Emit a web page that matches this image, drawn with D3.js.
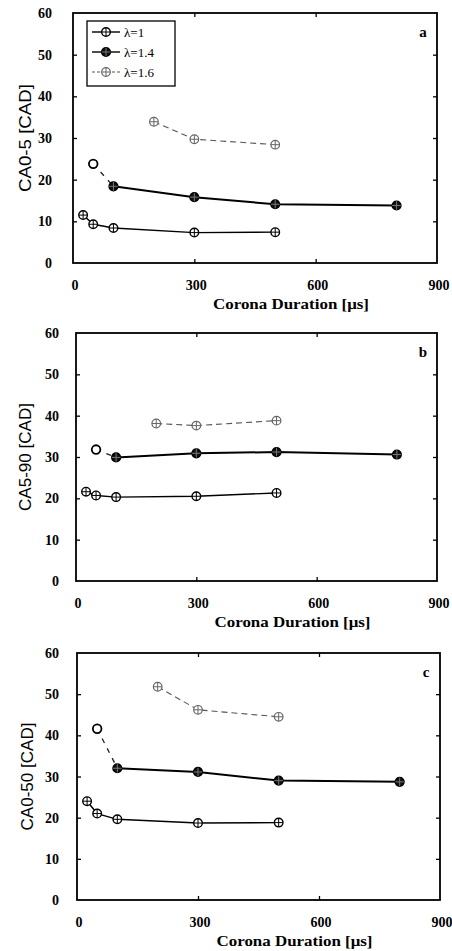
<!DOCTYPE html>
<html>
<head>
<meta charset="utf-8">
<script src="https://cdn.jsdelivr.net/npm/d3@7"></script>
<style>
  html, body { margin: 0; padding: 0; background: #fff; }
  svg { display: block; }
</style>
</head>
<body>
<svg id="chart" width="452" height="951"></svg>
<script>
// ---- data ----
const durationsL1 = [25, 50, 100, 300, 500];
const durationsL14 = [50, 100, 300, 500, 800];
const durationsL16 = [200, 300, 500];
const seriesNames = ["λ=1", "λ=1.4", "λ=1.6"];

const panelAL1 = [11.5, 9.3, 8.4, 7.3, 7.4];
const panelAL14 = [23.8, 18.4, 15.8, 14.1, 13.8];
const panelAL16 = [33.9, 29.7, 28.4];

const panelBL1 = [21.6, 20.7, 20.3, 20.5, 21.3];
const panelBL14 = [31.8, 29.9, 30.9, 31.2, 30.6];
const panelBL16 = [38.1, 37.6, 38.8];

const panelCL1 = [24.0, 21.0, 19.6, 18.7, 18.8];
const panelCL14 = [41.6, 32.0, 31.1, 29.0, 28.7];
const panelCL16 = [51.8, 46.2, 44.5];

const xTicks = [0, 300, 600, 900];
const yTicks = [0, 10, 20, 30, 40, 50, 60];
const panelLetters = ["a", "b", "c"];
const yTitles = ["CA0-5 [CAD]", "CA5-90 [CAD]", "CA0-50 [CAD]"];
const xTitle = "Corona Duration [μs]";

// ---- layout ----
const svg = d3.select("#chart");
const frames = [
  {l: 73, r: 437, t: 13, b: 263, tickEnd: 52, yTitleX: 25, legend: true},
  {l: 76, r: 437, t: 333, b: 581, tickEnd: 59, yTitleX: 25, legend: false},
  {l: 77, r: 440, t: 653, b: 900, tickEnd: 59, yTitleX: 27, legend: false}
];
const panelsData = [
  [panelAL1, panelAL14, panelAL16],
  [panelBL1, panelBL14, panelBL16],
  [panelCL1, panelCL14, panelCL16]
];
const xsets = [durationsL1, durationsL14, durationsL16];

const serif = "'Liberation Serif', 'DejaVu Serif', serif";
const sans = "'Liberation Sans', Arial, sans-serif";

function marker(g, cx, cy, kind) {
  const r = 4.3;
  let fill = "#fff", stroke = "#000", sw = 1.4, cross = "#000";
  if (kind === 1) { fill = "#111"; cross = "#777"; sw = 1.6; }
  if (kind === 2) { stroke = "#666"; cross = "#666"; sw = 1.2; }
  if (kind === 3) { sw = 1.8; cross = null; }
  g.append("circle").attr("cx", cx).attr("cy", cy).attr("r", r)
    .attr("fill", fill).attr("stroke", stroke).attr("stroke-width", sw);
  if (cross) {
    g.append("path")
      .attr("d", `M${cx - r},${cy}H${cx + r}M${cx},${cy - r}V${cy + r}`)
      .attr("stroke", cross).attr("stroke-width", 1);
  }
}

const lineStyles = [
  {stroke: "#000", width: 1.4, dash: null},
  {stroke: "#000", width: 2.0, dash: null},
  {stroke: "#555", width: 1.1, dash: "6,4"}
];

frames.forEach((f, pi) => {
  const x = d3.scaleLinear().domain([0, 900]).range([f.l, f.r]);
  const y = d3.scaleLinear().domain([0, 60]).range([f.b, f.t]);
  const g = svg.append("g");

  // inward ticks via axes
  const ax = [
    {axis: d3.axisBottom(x).tickValues(xTicks.slice(1, -1)).tickSize(-4).tickFormat(""), tr: `translate(0,${f.b})`},
    {axis: d3.axisTop(x).tickValues(xTicks.slice(1, -1)).tickSize(-4).tickFormat(""), tr: `translate(0,${f.t})`},
    {axis: d3.axisLeft(y).tickValues(yTicks.slice(1, -1)).tickSize(-4).tickFormat(""), tr: `translate(${f.l},0)`},
    {axis: d3.axisRight(y).tickValues(yTicks.slice(1, -1)).tickSize(-4).tickFormat(""), tr: `translate(${f.r},0)`}
  ];
  ax.forEach(a => {
    const ag = g.append("g").attr("transform", a.tr).call(a.axis);
    ag.select(".domain").remove();
    ag.selectAll("line").attr("stroke", "#000").attr("stroke-width", 1.3);
  });

  // frame
  g.append("rect").attr("x", f.l).attr("y", f.t)
    .attr("width", f.r - f.l).attr("height", f.b - f.t)
    .attr("fill", "none").attr("stroke", "#000").attr("stroke-width", 1.8);

  // tick labels
  g.selectAll(".xl").data(xTicks).enter().append("text")
    .attr("x", d => x(d) + 2).attr("y", f.b + 27)
    .attr("text-anchor", "middle")
    .attr("font-family", serif).attr("font-size", 14).attr("font-weight", "bold")
    .text(d => d);
  g.selectAll(".yl").data(yTicks).enter().append("text")
    .attr("x", f.tickEnd).attr("y", d => y(d) + 5)
    .attr("text-anchor", "end")
    .attr("font-family", serif).attr("font-size", 14).attr("font-weight", "bold")
    .text(d => d);

  // axis titles
  g.append("text")
    .attr("x", (f.l + f.r) / 2 + 36).attr("y", f.b + 46)
    .attr("text-anchor", "middle")
    .attr("font-family", serif).attr("font-size", 15).attr("font-weight", "bold")
    .attr("textLength", 156).attr("lengthAdjust", "spacingAndGlyphs")
    .text(xTitle);
  const yc = y(30) + 0;
  g.append("text")
    .attr("transform", `translate(${f.yTitleX + 6},${yc}) rotate(-90)`)
    .attr("text-anchor", "middle")
    .attr("font-family", sans).attr("font-size", 16)
    .attr("textLength", 108).attr("lengthAdjust", "spacingAndGlyphs")
    .text(yTitles[pi]);

  // panel letter
  g.append("text")
    .attr("x", f.r - 14).attr("y", f.t + 24)
    .attr("text-anchor", "middle")
    .attr("font-family", serif).attr("font-size", 15).attr("font-weight", "bold")
    .text(panelLetters[pi]);

  // series
  const data = panelsData[pi];
  const line = d3.line().x(d => x(d[0])).y(d => y(d[1]));
  data.forEach((vals, si) => {
    const pts = xsets[si].map((d, i) => [d, vals[i]]);
    const st = lineStyles[si];
    if (si === 1) {
      // first point of λ=1.4 joined with a dashed segment
      g.append("path").datum(pts.slice(0, 2)).attr("d", line)
        .attr("fill", "none").attr("stroke", "#222").attr("stroke-width", 1.3)
        .attr("stroke-dasharray", "5,6");
      g.append("path").datum(pts.slice(1)).attr("d", line)
        .attr("fill", "none").attr("stroke", st.stroke).attr("stroke-width", st.width);
    } else {
      g.append("path").datum(pts).attr("d", line)
        .attr("fill", "none").attr("stroke", st.stroke).attr("stroke-width", st.width)
        .attr("stroke-dasharray", st.dash);
    }
    pts.forEach((p, i) => {
      const kind = (si === 1 && i === 0) ? 3 : si;
      marker(g, x(p[0]), y(p[1]), kind);
    });
  });

  // legend
  if (f.legend) {
    const lg = g.append("g");
    lg.append("rect").attr("x", 87).attr("y", 21).attr("width", 88).attr("height", 65)
      .attr("fill", "#fff").attr("stroke", "#000").attr("stroke-width", 1.3);
    seriesNames.forEach((n, i) => {
      const ly = 32 + i * 20;
      const st = lineStyles[i];
      lg.append("line").attr("x1", 92).attr("x2", 120).attr("y1", ly).attr("y2", ly)
        .attr("stroke", st.stroke).attr("stroke-width", i === 2 ? 1.1 : 1.4)
        .attr("stroke-dasharray", i === 2 ? "3,2" : null);
      marker(lg, 106, ly, i);
      lg.append("text").attr("x", 124).attr("y", ly + 4.5)
        .attr("font-family", serif).attr("font-size", 13)
        .text(n);
    });
  }
});
</script>
</body>
</html>
